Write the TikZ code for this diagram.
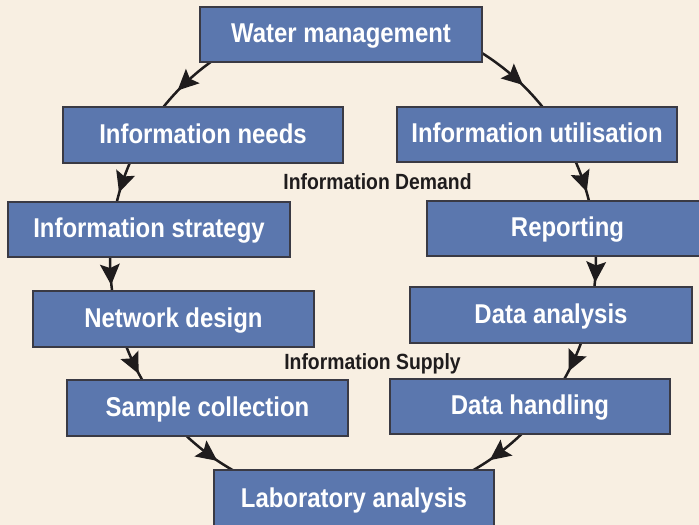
\documentclass[tikz,border=0pt]{standalone}
\usepackage{fontspec}
\setmainfont{Liberation Sans}[FakeStretch=0.88]
\usetikzlibrary{calc,decorations.markings}
\definecolor{bg}{HTML}{F8EFE2}
\definecolor{boxfill}{HTML}{5B77AE}
\definecolor{boxline}{HTML}{3A3A44}
\definecolor{ink}{HTML}{1F1C1D}
\tikzset{
  box/.style={draw=boxline, line width=1.2bp, fill=boxfill, text=white,
    inner sep=0pt, outer sep=0pt, minimum height=55bp, minimum width=281bp,
    font=\fontsize{27.2bp}{30bp}\selectfont\bfseries,
    text height=17bp, text depth=0pt},
  flow/.style={draw=ink, line width=2.5bp, postaction={decorate},
    decoration={markings, mark=at position 0.5 with {
      \fill[ink] (11bp,0pt) -- (-10bp,10bp) -- (-6bp,0pt) -- (-10bp,-10bp) -- cycle;}}},
  lbl/.style={text=ink, font=\fontsize{22bp}{24bp}\selectfont\bfseries,
    inner sep=0pt, anchor=base}
}
\begin{document}
\begin{tikzpicture}[x=1bp,y=1bp]
\useasboundingbox (0,0) rectangle (699,525);
\fill[bg] (0,0) rectangle (699,525);
\clip (0,0) rectangle (699,525);
\coordinate (C) at (353,266);
% left side (flow downwards)
\draw[flow] ($(C)+(124.8:243bp)$) arc[start angle=124.8, end angle=142.3, radius=243bp];
\draw[flow] ($(C)+(155.7:243bp)$) arc[start angle=155.7, end angle=167.4, radius=243bp];
\draw[flow] ($(C)+(178.5:243bp)$) arc[start angle=178.5, end angle=188.6, radius=243bp];
\draw[flow] ($(C)+(200.2:243bp)$) arc[start angle=200.2, end angle=210.9, radius=243bp];
\draw[flow] ($(C)+(225.7:243bp)$) arc[start angle=225.7, end angle=241.3, radius=243bp];
% right side (flow downwards)
\draw[flow] ($(C)+(58.9:243bp)$) arc[start angle=58.9, end angle=37.7, radius=243bp];
\draw[flow] ($(C)+(24.5:243bp)$) arc[start angle=24.5, end angle=12.8, radius=243bp];
\draw[flow] ($(C)+(1.7:243bp)$) arc[start angle=1.7, end angle=-7.6, radius=243bp];
\draw[flow] ($(C)+(-19.2:243bp)$) arc[start angle=-19.2, end angle=-30.6, radius=243bp];
\draw[flow] ($(C)+(-45.1:243bp)$) arc[start angle=-45.1, end angle=-61.3, radius=243bp];
% boxes
\node[box, minimum width=282bp] (water) at (341,490.5) {Water management};
\node[box, minimum width=280bp, minimum height=56bp] (needs) at (203,390) {Information needs};
\node[box, minimum width=280bp] (util) at (537,390.5) {Information utilisation};
\node[box, minimum width=282bp] (strat) at (149,295.5) {Information strategy};
\node[box, minimum width=281bp] (report) at (567.5,296.5) {Reporting};
\node[box, minimum width=281bp, minimum height=56bp] (network) at (173.5,206) {Network design};
\node[box, minimum width=282bp, minimum height=56bp] (danalysis) at (551,210) {Data analysis};
\node[box, minimum width=281bp, minimum height=56bp] (sample) at (207.5,117) {Sample collection};
\node[box, minimum width=280bp] (handling) at (530,118.5) {Data handling};
\node[box, minimum width=280bp, minimum height=58bp] (lab) at (354,26) {Laboratory analysis};
% labels
\node[lbl] (demand) at (377.5,335) {Information Demand};
\node[lbl] (supply) at (372.5,155) {Information Supply};
\end{tikzpicture}
\end{document}
